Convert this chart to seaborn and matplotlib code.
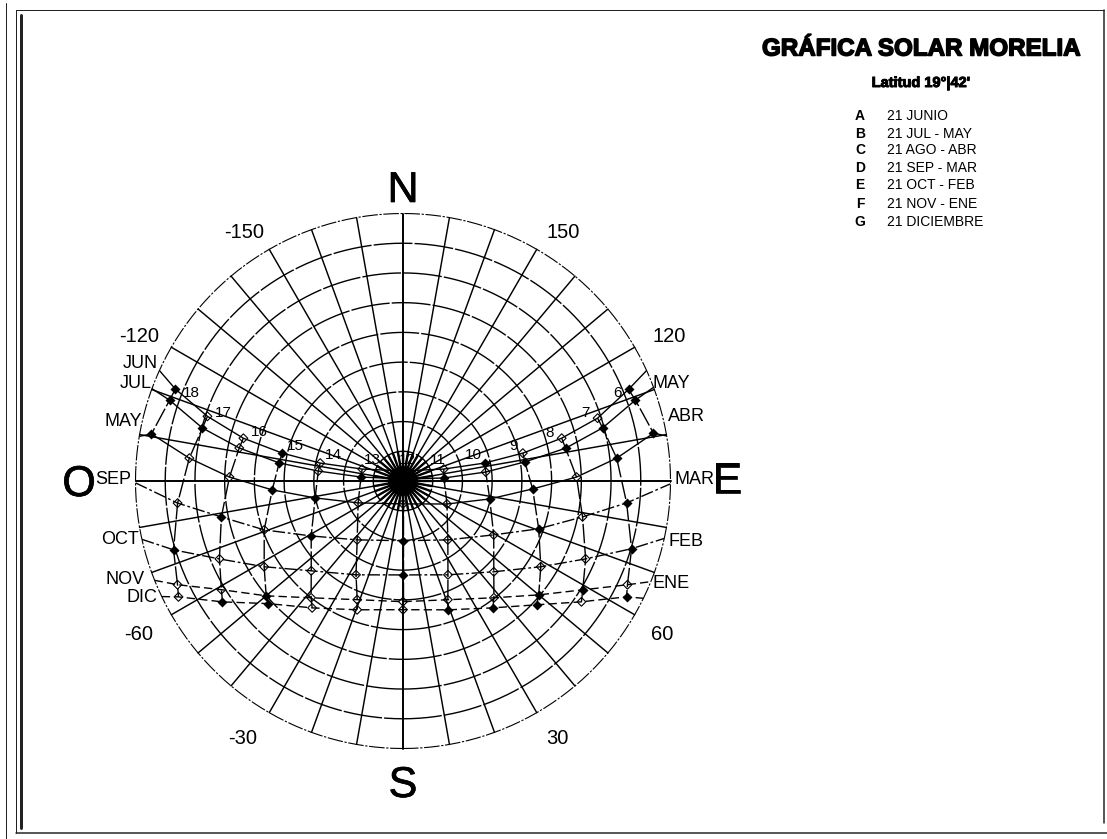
import numpy as np
import pandas as pd
import seaborn as sns
import matplotlib
matplotlib.use('Agg')
import matplotlib.pyplot as plt
import matplotlib.patheffects as pe
from matplotlib.lines import Line2D

hours = [18, 17, 16, 15, 14, 13, 12, 11, 10, 9, 8, 7, 6]
nan = float('nan')

# azimuth (0 = south, + = east) and zenith angle for each hour
az_a = [-112.0, -108.3, -105.0, -103.0, -102.2, -106.3, 180, 106.3, 102.4, 103.1, 105.1, 107.9, 112.1]
ze_a = [82.6, 69.3, 55.6, 41.7, 28.5, 14.3, 3.4, 14.3, 28.2, 41.4, 55.3, 68.8, 81.9]
az_b = [-109.1, -104.8, -101.4, -98.3, -96.7, -95.4, 180, 94.2, 96.2, 98.9, 101.4, 104.9, 109.2]
ze_b = [83.1, 69.8, 56.2, 42.1, 28.7, 14.2, 0.7, 13.8, 28.0, 41.5, 55.8, 69.5, 82.8]
az_c = [-100.6, -96.1, -91.3, -86.1, -79.1, -64.0, 0, 62.4, 78.3, 86.5, 91.3, 96.1, 100.8]
ze_c = [86.1, 72.3, 58.4, 44.1, 30.1, 16.8, 7.7, 16.7, 29.8, 43.7, 58.4, 72.3, 85.8]
az_d = [nan, -84.4, -78.8, -70.6, -59.1, -37.9, 0, 37.3, 59.3, 70.6, 78.7, 84.4, nan]
ze_d = [nan, 76.2, 62.3, 49.5, 36.0, 25.1, 20.1, 24.9, 35.5, 48.4, 61.6, 75.6, nan]
az_e = [nan, -73.3, -67.0, -58.3, -45.6, -26.6, 0, 25.6, 45.0, 58.1, 66.9, 73.5, nan]
ze_e = [nan, 80.6, 67.1, 54.9, 43.2, 35.3, 31.6, 35.0, 43.2, 54.6, 66.8, 80.2, nan]
az_f = [nan, -65.3, -59.1, -50.0, -38.2, -21.1, 0, 20.7, 37.9, 50.0, 58.8, 65.2, nan]
ze_f = [nan, 83.5, 71.2, 60.1, 50.0, 42.8, 40.6, 42.7, 49.8, 59.6, 70.7, 83.2, nan]
az_g = [nan, -62.7, -56.2, -47.7, -35.6, -19.6, 0, 19.2, 35.3, 47.2, 55.9, 62.6, nan]
ze_g = [nan, 85.0, 73.1, 61.3, 52.5, 46.0, 43.3, 45.9, 52.3, 61.3, 72.5, 84.7, nan]

# azimuth where each track meets the outer circle (afternoon, morning)
edge_a = [-114.4, 114.4]
edge_b = [-110.2, 110.5]
edge_c = [-99.6, 99.7]
edge_d = [-89.6, 89.4]
edge_e = [-77.4, 77.6]
edge_f = [-68.2, 67.9]
edge_g = [-64.4, 64.0]

# hours that show a solid marker in each track
solid_a = [18, 15, 10, 6]
solid_b = [18, 17, 15, 13, 11, 9, 8, 7, 6]
solid_c = [18, 15, 14, 10, 9, 7, 6]
solid_d = [16, 14, 12, 9, 7]
solid_e = [17, 12, 7]
solid_f = [15, 9, 8]
solid_g = [16, 15, 11, 10, 9, 7]

rings = [10, 20, 30, 40, 50, 60, 70, 80]
spokes = list(range(-170, 190, 10))

month_left = ['JUN', 'JUL', 'MAY', 'SEP', 'OCT', 'NOV', 'DIC']
month_right = ['MAY', 'ABR', 'MAR', 'FEB', 'ENE']
legend_keys = ['A', 'B', 'C', 'D', 'E', 'F', 'G']
legend_text = ['21 JUNIO', '21 JUL - MAY', '21 AGO - ABR', '21 SEP - MAR',
               '21 OCT - FEB', '21 NOV - ENE', '21 DICIEMBRE']

sns.set_theme(style='white')
plt.rcParams['font.family'] = ['Liberation Sans', 'DejaVu Sans']

W, H = 1107, 839
fig = plt.figure(figsize=(W / 100, H / 100), dpi=100, facecolor='white')

def fx(px):
    return px / W

def fy(py):
    return 1 - py / H

# centre of the diagram (403, 481), radius 267.5 px
ax = fig.add_axes([fx(135.5), fy(748.5), 535 / W, 535 / H], projection='polar')
ax.set_theta_zero_location('S')
ax.set_theta_direction(1)
ax.set_rlim(0, 90)
ax.axis('off')

tracks = [(az_a, ze_a, edge_a, solid_a, '-'), (az_b, ze_b, edge_b, solid_b, '-'),
          (az_c, ze_c, edge_c, solid_c, '-'), (az_d, ze_d, edge_d, solid_d, (0, (9, 2, 2, 2))),
          (az_e, ze_e, edge_e, solid_e, (0, (9, 2, 2, 2))), (az_f, ze_f, edge_f, solid_f, (0, (6, 3))),
          (az_g, ze_g, edge_g, solid_g, (0, (6, 3)))]

# grid
tt = np.linspace(0, 2 * np.pi, 361)
for r in rings:
    ax.plot(tt, np.full_like(tt, r), color='black', lw=1.0, ls=(0, (28, 1.5)), clip_on=False)
ax.plot(tt, np.full_like(tt, 90), color='black', lw=0.8, ls=(0, (14, 1.5, 2, 1.5)), clip_on=False)
for s in spokes:
    wide = 1.4 if s in (-90, 90, 180, 0) else 1.05
    ax.plot(np.radians([s, s]), [0, 90], color='black', lw=wide, clip_on=False)
    ax.plot(np.radians([s, s]), [0, 10], color='black', lw=1.7, clip_on=False)
ax.fill(tt, np.full_like(tt, 5.0), color='black', lw=0)

rows = []
for key, (az, ze, edge, solid, ls) in zip(legend_keys, tracks):
    df = pd.DataFrame({'az': az, 'ze': ze, 'hour': hours}).dropna()
    df['theta'] = np.radians(df['az'])
    df['solid'] = df['hour'].isin(solid)
    df['track'] = key
    rows.append(df)
    path = pd.DataFrame({'az': [edge[0]] + list(df['az']) + [edge[1]],
                         'ze': [90] + list(df['ze']) + [90]})
    path['theta'] = np.radians(path['az'])
    sns.lineplot(data=path, x='theta', y='ze', sort=False, estimator=None, color='black',
                 lw=1.0, linestyle=ls, ax=ax, legend=False)
points = pd.concat(rows)

# hour lines across the months
for h in hours:
    sub = points[points['hour'] == h]
    sns.lineplot(data=sub, x='theta', y='ze', sort=False, estimator=None, color='black',
                 lw=1.0, linestyle=(0, (14, 2)), ax=ax, legend=False)

sns.scatterplot(data=points[points['solid']], x='theta', y='ze', marker='D', s=26, color='black',
                linewidth=0, ax=ax, legend=False, clip_on=False)
sns.scatterplot(data=points[~points['solid']], x='theta', y='ze', marker='D', s=20, facecolor='none',
                edgecolor='black', linewidth=0.8, ax=ax, legend=False, clip_on=False)
ax.set_rlim(0, 90)
ax.set_xlabel('')
ax.set_ylabel('')

def label(px, py, s, size, **kw):
    kw.setdefault('ha', 'center')
    return fig.text(fx(px), fy(py), s, fontsize=size, va='center', color='black', **kw)

heavy = [pe.withStroke(linewidth=0.5, foreground='black')]

# cardinal points
for px, py, s in [(403, 191, 'N'), (403, 786, 'S'), (79, 485, 'O'), (727, 482, 'E')]:
    label(px, py, s, 31).set_path_effects(heavy)

# azimuth numbers
for px, py, s in [(244, 232, '-150'), (563, 232, '150'), (139, 337, '-120'), (669, 337, '120'),
                  (139, 634, '-60'), (662, 634, '60'), (243, 738, '-30'), (557, 738, '30')]:
    label(px, py, s, 14.5)

# months
for px, py, s in zip([158, 152, 142, 131, 139, 145, 157], [363, 384, 421, 480, 540, 579, 597], month_left):
    label(px, py, s, 13, ha='right')
for px, py, s in zip([653, 668, 675, 668, 653], [383, 416, 480, 541, 583], month_right):
    label(px, py, s, 13, ha='left')

# hours
for px, py, s in [(191, 393, '18'), (223, 413, '17'), (259, 432, '16'), (295, 446, '15'), (333, 455, '14'),
                  (372, 460, '13'), (407, 460, '12'), (438, 460, '11'), (473, 455, '10'), (514, 446, '9'),
                  (550, 433, '8'), (585, 413, '7'), (617, 393, '6')]:
    label(px, py, s, 11)

# title block
title = label(921, 49, 'GRÁFICA SOLAR MORELIA', 17.4, fontweight='bold')
title.set_path_effects([pe.withStroke(linewidth=1.1, foreground='black')])
sub = label(921, 83, "Latitud 19°|42'", 10.5, fontweight='bold')
sub.set_path_effects([pe.withStroke(linewidth=0.7, foreground='black')])
for py, k, s in zip([116, 134, 150, 168, 185, 204, 222], legend_keys, legend_text):
    label(860, py, k, 10, fontweight='bold')
    label(887, py, s, 10, ha='left')

# page frame
for xs, ys, w in [([6, 6], [3, 839], 1.0), ([16, 16], [10, 833], 1.0), ([21, 21], [15, 828], 3.0),
                  ([16, 1104], [10, 10], 1.0), ([16, 1107], [833, 833], 1.5), ([1104, 1104], [10, 823], 1.5)]:
    fig.add_artist(Line2D([fx(x) for x in xs], [fy(y) for y in ys], color='#222222', lw=w * 0.72))

fig.savefig('out.png', dpi=100, facecolor='white')
